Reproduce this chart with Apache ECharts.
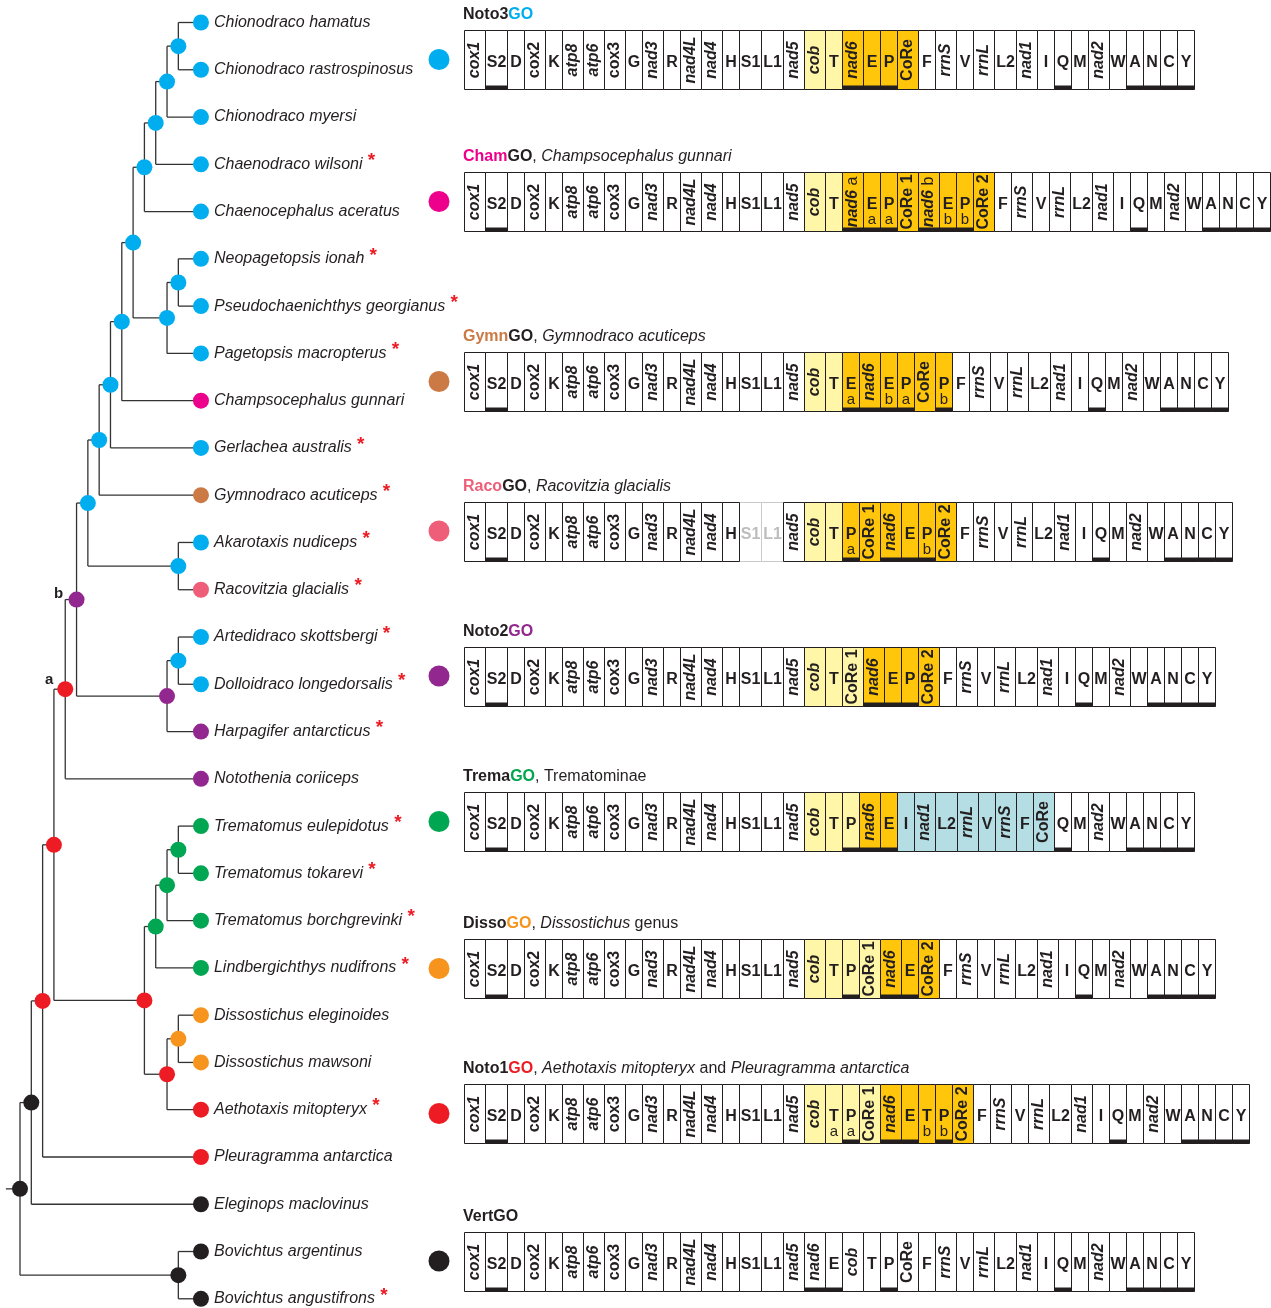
<!DOCTYPE html>
<html>
<head>
<meta charset="utf-8">
<title>Notothenioid mitogenome gene orders</title>
<script src="https://cdn.jsdelivr.net/npm/echarts@6.0.0/dist/echarts.min.js"></script>
<style>
html,body{margin:0;padding:0;background:#fff;}
#chart{width:1271px;height:1308px;}
</style>
</head>
<body>
<div id="chart"></div>
<script>
// ===================== DATA =====================
const leafNames = [
  'Chionodraco hamatus','Chionodraco rastrospinosus','Chionodraco myersi','Chaenodraco wilsoni',
  'Chaenocephalus aceratus','Neopagetopsis ionah','Pseudochaenichthys georgianus','Pagetopsis macropterus',
  'Champsocephalus gunnari','Gerlachea australis','Gymnodraco acuticeps','Akarotaxis nudiceps',
  'Racovitzia glacialis','Artedidraco skottsbergi','Dolloidraco longedorsalis','Harpagifer antarcticus',
  'Notothenia coriiceps','Trematomus eulepidotus','Trematomus tokarevi','Trematomus borchgrevinki',
  'Lindbergichthys nudifrons','Dissostichus eleginoides','Dissostichus mawsoni','Aethotaxis mitopteryx',
  'Pleuragramma antarctica','Eleginops maclovinus','Bovichtus argentinus','Bovichtus angustifrons'
];
const leafGroup = ['Noto3','Noto3','Noto3','Noto3','Noto3','Noto3','Noto3','Noto3','Cham','Noto3',
  'Gymn','Noto3','Raco','Noto3','Noto3','Noto2','Noto2','Trema','Trema','Trema','Trema',
  'Disso','Disso','Noto1','Noto1','Vert','Vert','Vert'];
const leafStar = [0,0,0,1,0,1,1,1,0,1,1,1,1,1,1,1,0,1,1,1,1,0,0,1,0,0,0,1];

// internal nodes (children: number = leaf index, string = node id), depth = level from root
const nodeIds      = ['A','B','C','D','E','F','G','H','I','J','K','L','M','N','b','a','Q','R','S','V','U','T','P','W','Bv','X','root'];
const nodeDepth    = [14,13,12,11,14,13,10,9,8,7,14,6,14,13,5,4,14,13,12,14,13,11,3,2,14,1,0];
const nodeChildren = [[0,1],['A',2],['B',3],['C',4],[5,6],['E',7],['D','F'],['G',8],['H',9],['I',10],
  [11,12],['J','K'],[13,14],['M',15],['L','N'],['b',16],[17,18],['Q',19],['R',20],[21,22],['V',23],
  ['S','U'],['a','T'],['P',24],[26,27],['W',25],['X','Bv']];
const nodeGroup    = ['Noto3','Noto3','Noto3','Noto3','Noto3','Noto3','Noto3','Noto3','Noto3','Noto3',
  'Noto3','Noto3','Noto3','Noto2','Noto2','Noto1','Trema','Trema','Trema','Disso','Noto1',
  'Noto1','Noto1','Noto1','Vert','Vert','Vert'];
const nodeLabel    = {a:'a', b:'b'};

// gene orders (token = gene[_suffix][:fill]; fill y = light yellow, g = gold, b = light blue, x = absent)
const genesStart = ['cox1','S2','D','cox2','K','atp8','atp6','cox3','G','nad3','R','nad4L','nad4','H','S1','L1','nad5'];
const genesEnd   = ['F','rrnS','V','rrnL','L2','nad1','I','Q','M','nad2','W','A','N','C','Y'];
const rowGroups  = ['Noto3','Cham','Gymn','Raco','Noto2','Trema','Disso','Noto1','Vert'];
const orderNoto3 = genesStart.concat(['cob:y','T:y','nad6:g','E:g','P:g','CoRe:g'], genesEnd);
const orderCham  = genesStart.concat(['cob:y','T:y','nad6_a:g','E_a:g','P_a:g','CoRe_1:g','nad6_b:g','E_b:g','P_b:g','CoRe_2:g'], genesEnd);
const orderGymn  = genesStart.concat(['cob:y','T:y','E_a:g','nad6:g','E_b:g','P_a:g','CoRe:g','P_b:g'], genesEnd);
const orderRaco  = ['cox1','S2','D','cox2','K','atp8','atp6','cox3','G','nad3','R','nad4L','nad4','H','S1:x','L1:x','nad5',
  'cob:y','T:y','P_a:g','CoRe_1:g','nad6:g','E:g','P_b:g','CoRe_2:g'].concat(genesEnd);
const orderNoto2 = genesStart.concat(['cob:y','T:y','CoRe_1:y','nad6:g','E:g','P:g','CoRe_2:g'], genesEnd);
const orderTrema = genesStart.concat(['cob:y','T:y','P:y','nad6:g','E:g','I:b','nad1:b','L2:b','rrnL:b','V:b','rrnS:b','F:b','CoRe:b',
  'Q','M','nad2','W','A','N','C','Y']);
const orderDisso = genesStart.concat(['cob:y','T:y','P:y','CoRe_1:y','nad6:g','E:g','CoRe_2:g'], genesEnd);
const orderNoto1 = genesStart.concat(['cob:y','T_a:y','P_a:y','CoRe_1:y','nad6:g','E:g','T_b:g','P_b:g','CoRe_2:g'], genesEnd);
const orderVert  = genesStart.concat(['nad6','E','cob','T','P','CoRe'], genesEnd);
const rowOrders  = [orderNoto3,orderCham,orderGymn,orderRaco,orderNoto2,orderTrema,orderDisso,orderNoto1,orderVert];

const rowTitles = [
  [['Noto3','k'],['GO','c']],
  [['Cham','c'],['GO','k'],[', ','r'],['Champsocephalus gunnari','i']],
  [['Gymn','c'],['GO','k'],[', ','r'],['Gymnodraco acuticeps','i']],
  [['Raco','c'],['GO','k'],[', ','r'],['Racovitzia glacialis','i']],
  [['Noto2','k'],['GO','c']],
  [['Trema','k'],['GO','c'],[', Trematominae','r']],
  [['Disso','k'],['GO','c'],[', ','r'],['Dissostichus','i'],[' genus','r']],
  [['Noto1','k'],['GO','c'],[', ','r'],['Aethotaxis mitopteryx','i'],[' and ','r'],['Pleuragramma antarctica','i']],
  [['VertGO','k']]
];

// ===================== STYLE / LAYOUT =====================
const FONT = "'Liberation Sans', Arial, Helvetica, sans-serif";
const INK = '#231F20';
const groupColor = {Noto3:'#00AEEF', Cham:'#EC008C', Gymn:'#CB7A45', Raco:'#EE5E78', Noto2:'#92278F',
  Trema:'#00A651', Disso:'#F7941D', Noto1:'#ED1C24', Vert:'#231F20'};
const FILL = {w:'#FFFFFF', y:'#FFF6A8', g:'#FFC60B', b:'#B4DEE4', x:'#FFFFFF'};
const W = 1271, H = 1308;
const TREE_LEFT = 20, LEVEL_PX = 11.31, LEAF_TOP = 22.5, LEAF_PX = 47.27, MAX_LEVEL = 16;
const GENE_LEFT = 464;
const ROW_CENTER = [59.5, 201.5, 381.5, 531, 676, 821.5, 968.5, 1113.5, 1261];
const BOX_H = 59;

const ROTATED = new Set(['cox1','cox2','cox3','atp8','atp6','nad1','nad2','nad3','nad4','nad4L','nad5','nad6','cob','rrnS','rrnL','CoRe']);
const UPRIGHT = new Set(['cox2','cox3','CoRe']);
const LSTRAND = new Set(['S2','nad6','E','P','Q','A','N','C','Y']);
function widthOf(name){ if (ROTATED.has(name)) return 21; return name.length === 1 ? 17 : 22; }

// ---- build tree geometry (in depth / leaf-index units) ----
const nodeY = {};
const nodeIdx = {};
nodeIds.forEach((id,i)=>{ nodeIdx[id] = i; });
function yOf(ref){ return typeof ref === 'number' ? ref : nodeY[ref]; }
function xOf(ref){ return typeof ref === 'number' ? MAX_LEVEL : nodeDepth[nodeIdx[ref]]; }
nodeIds.forEach((id,i)=>{ const c = nodeChildren[i]; nodeY[id] = (yOf(c[0]) + yOf(c[1])) / 2; });

// ---- build gene boxes ----
const geneItems = [];
rowOrders.forEach((list, r)=>{
  let s = 0;
  list.forEach(tok=>{
    const parts = tok.split(':');
    const fill = parts[1] || 'w';
    const nm = parts[0].split('_');
    const name = nm[0], sub = nm[1] || '';
    const w = widthOf(name);
    geneItems.push({row:r, name, sub, fill, start:s, w});
    s += w;
  });
});

// ===================== CHART =====================
const chart = echarts.init(document.getElementById('chart'), null, {renderer:'canvas'});

function renderBranch(params, api){
  const i = params.dataIndex;
  const id = nodeIds[i];
  const p = api.coord([nodeDepth[i], nodeY[id]]);
  const c0 = api.coord([xOf(nodeChildren[i][0]), yOf(nodeChildren[i][0])]);
  const c1 = api.coord([xOf(nodeChildren[i][1]), yOf(nodeChildren[i][1])]);
  const ls = {stroke:'#333333', lineWidth:1.3};
  const ch = [
    {type:'line', shape:{x1:p[0], y1:c0[1], x2:p[0], y2:c1[1]}, style:ls},
    {type:'line', shape:{x1:p[0], y1:c0[1], x2:c0[0], y2:c0[1]}, style:ls},
    {type:'line', shape:{x1:p[0], y1:c1[1], x2:c1[0], y2:c1[1]}, style:ls}
  ];
  if (id === 'root') {
    const s = api.coord([-1.25, nodeY[id]]);
    ch.push({type:'line', shape:{x1:s[0], y1:p[1], x2:p[0], y2:p[1]}, style:ls});
  }
  return {type:'group', children:ch};
}

function renderGene(params, api){
  const g = geneItems[params.dataIndex];
  const yc = ROW_CENTER[g.row];
  const a = api.coord([g.start, yc - BOX_H/2]);
  const b = api.coord([g.start + g.w, yc + BOX_H/2]);
  const x0 = Math.round(a[0]) + 0.5, y0 = Math.round(a[1]) + 0.5;
  const w = Math.round(b[0]) - Math.round(a[0]), h = Math.round(b[1]) - Math.round(a[1]);
  const absent = g.fill === 'x';
  const txt = absent ? '#BDBDBD' : INK;
  const ch = [{type:'rect', z2: absent ? 1 : 2, shape:{x:x0, y:y0, width:w, height:h},
    style:{fill:FILL[g.fill], stroke: absent ? '#CACACA' : INK, lineWidth:1}}];
  if (LSTRAND.has(g.name)) {
    ch.push({type:'rect', z2:3, shape:{x:x0, y:y0 + h - 4, width:w, height:4}, style:{fill:INK}});
  }
  const cx = x0 + w/2, cy = y0 + h/2;
  if (ROTATED.has(g.name)) {
    const italic = UPRIGHT.has(g.name) ? 'normal' : 'italic';
    const subBold = /\d/.test(g.sub);
    let text = '{m|' + g.name + '}';
    if (g.sub) text += '{s| ' + g.sub + '}';
    ch.push({type:'text', z2:4, x:cx, y:cy, rotation:Math.PI/2, style:{
      text, align:'center', verticalAlign:'middle',
      rich:{
        m:{fontFamily:FONT, fontSize:16, fontWeight:'bold', fontStyle:italic, fill:txt},
        s:{fontFamily:FONT, fontSize:16, fontWeight: subBold ? 'bold' : 'normal', fill:txt}
      }}});
  } else {
    ch.push({type:'text', z2:4, x:cx, y:cy + 3, style:{text:g.name, align:'center', verticalAlign:'middle',
      fontFamily:FONT, fontSize:16, fontWeight:'bold', fill:txt}});
    if (g.sub) {
      ch.push({type:'text', z2:4, x:cx, y:cy + 17.5, style:{text:g.sub, align:'center', verticalAlign:'middle',
        fontFamily:FONT, fontSize:15, fontWeight:'normal', fill:txt}});
    }
  }
  return {type:'group', children:ch};
}

function renderRowHead(params, api){
  const r = params.dataIndex;
  const col = groupColor[rowGroups[r]];
  const t = api.coord([0, ROW_CENTER[r] - BOX_H/2 - 15]);
  const dot = api.coord([-25, ROW_CENTER[r]]);
  const text = rowTitles[r].map(p => '{' + p[1] + '|' + p[0] + '}').join('');
  return {type:'group', children:[
    {type:'circle', shape:{cx:dot[0], cy:dot[1], r:10.5}, style:{fill:col}},
    {type:'text', x:t[0] - 1, y:t[1], style:{text, align:'left', verticalAlign:'middle',
      rich:{
        k:{fontFamily:FONT, fontSize:16, fontWeight:'bold', fill:INK},
        c:{fontFamily:FONT, fontSize:16, fontWeight:'bold', fill:col},
        r:{fontFamily:FONT, fontSize:16, fontWeight:'normal', fill:INK},
        i:{fontFamily:FONT, fontSize:16, fontWeight:'normal', fontStyle:'italic', fill:INK}
      }}}
  ]};
}

const labelOffset = {a:[-16,-9], b:[-18,-6]};

const option = {
  animation:false,
  backgroundColor:'#fff',
  grid:[
    {left:TREE_LEFT, top:LEAF_TOP, width:LEVEL_PX*MAX_LEVEL, height:LEAF_PX*(leafNames.length-1)},
    {left:GENE_LEFT, top:0, width:W-GENE_LEFT, height:H}
  ],
  xAxis:[
    {gridIndex:0, type:'value', min:0, max:MAX_LEVEL, show:false},
    {gridIndex:1, type:'value', min:0, max:W-GENE_LEFT, show:false}
  ],
  yAxis:[
    {gridIndex:0, type:'value', min:0, max:leafNames.length-1, inverse:true, show:false},
    {gridIndex:1, type:'value', min:0, max:H, inverse:true, show:false}
  ],
  series:[
    {type:'custom', xAxisIndex:0, yAxisIndex:0, clip:false, z:1, silent:true,
      data: nodeIds.map((id,i)=>[nodeDepth[i], nodeY[id]]),
      renderItem: renderBranch},
    {type:'scatter', xAxisIndex:0, yAxisIndex:0, z:3, silent:true, symbol:'circle', symbolSize:16,
      itemStyle:{opacity:1},
      data: nodeIds.map((id,i)=>({
        value:[nodeDepth[i], nodeY[id]],
        itemStyle:{color:groupColor[nodeGroup[i]], opacity:1},
        label: nodeLabel[id] ? {show:true, formatter:nodeLabel[id], position:'inside',
          offset:labelOffset[id], color:INK, fontFamily:FONT, fontSize:15, fontWeight:'bold'} : {show:false}
      }))},
    {type:'scatter', xAxisIndex:0, yAxisIndex:0, z:3, silent:true, symbol:'circle', symbolSize:16,
      itemStyle:{opacity:1},
      data: leafNames.map((n,i)=>({value:[MAX_LEVEL, i], itemStyle:{color:groupColor[leafGroup[i]], opacity:1}})),
      label:{show:true, position:'right', distance:5,
        formatter: p => '{n|' + leafNames[p.dataIndex] + '}' + (leafStar[p.dataIndex] ? '{s| *}' : ''),
        rich:{
          n:{fontFamily:FONT, fontSize:16, fontStyle:'italic', color:INK},
          s:{fontFamily:FONT, fontSize:19, fontWeight:'bold', color:'#ED1C24', padding:[0,0,7,0]}
        }}},
    {type:'custom', xAxisIndex:1, yAxisIndex:1, clip:false, z:2, silent:true,
      data: geneItems.map(g=>[g.start, ROW_CENTER[g.row]]),
      renderItem: renderGene},
    {type:'custom', xAxisIndex:1, yAxisIndex:1, clip:false, z:2, silent:true,
      data: rowGroups.map((g,r)=>[0, ROW_CENTER[r]]),
      renderItem: renderRowHead}
  ]
};
chart.setOption(option);
</script>
</body>
</html>
